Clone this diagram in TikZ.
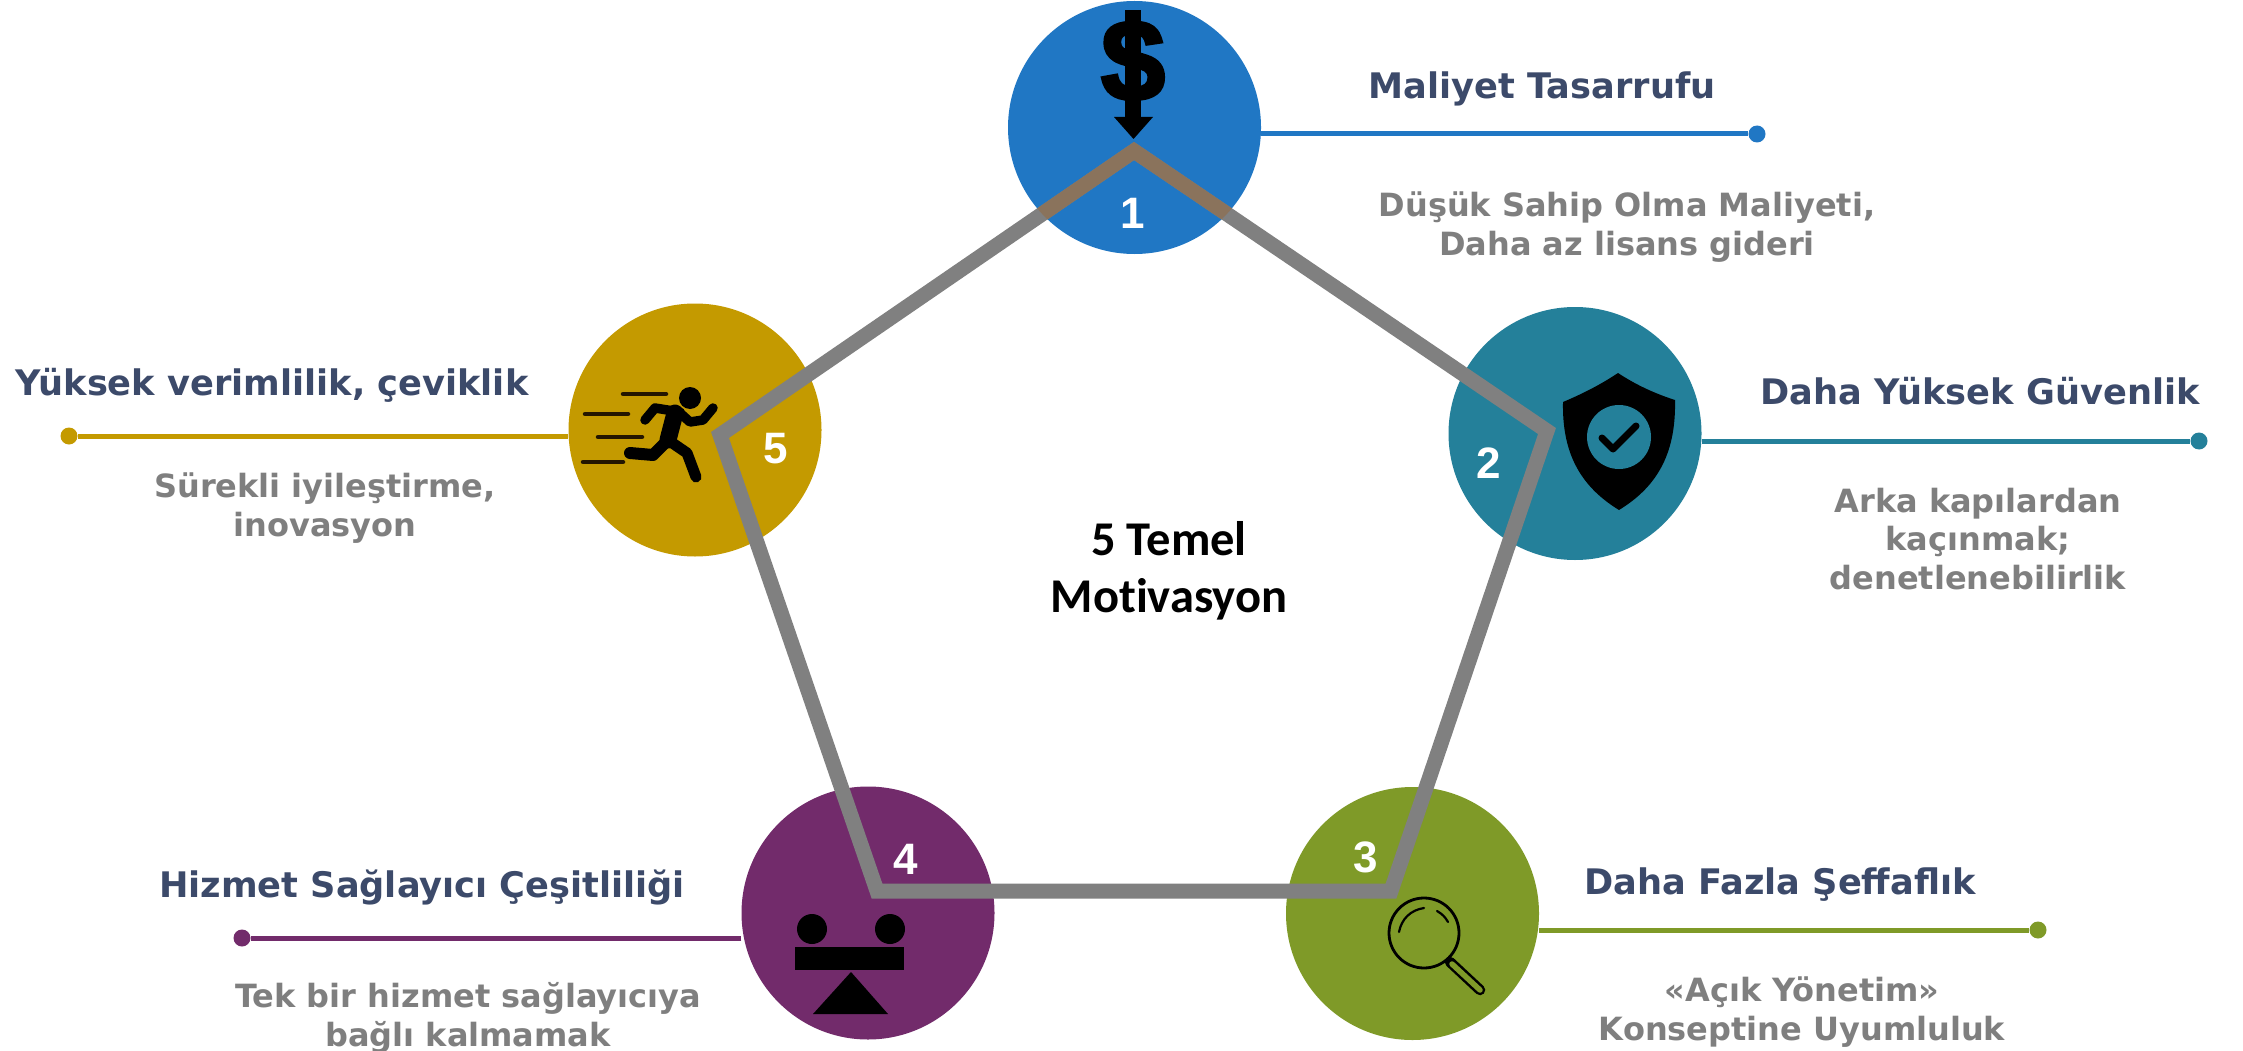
\documentclass[tikz,border=0pt]{standalone}
\usepackage{fontspec}
\setmainfont{DejaVu Sans}
\newfontfamily\numfont{Liberation Sans}
\newfontfamily\dollarfont[BoldFeatures={FakeBold=2.5}]{Liberation Sans}
\newfontfamily\midfont[Ligatures=CommonOff]{Carlito}
\definecolor{cblue}{HTML}{2077C4}
\definecolor{cteal}{HTML}{24809A}
\definecolor{cgold}{HTML}{C49A00}
\definecolor{cpurple}{HTML}{722B6B}
\definecolor{cgreen}{HTML}{7F9A28}
\definecolor{ctitle}{HTML}{3C4A6A}
\definecolor{csub}{HTML}{7F7F7F}
\definecolor{cline}{HTML}{808080}
\definecolor{cdark}{HTML}{241600}
\tikzset{
  disc/.style={circle,inner sep=0pt,minimum size=253pt,fill=#1},
  dotend/.style={circle,inner sep=0pt,minimum size=17pt,fill=#1},
  lead/.style={line width=5pt,draw=#1},
  titletext/.style={inner sep=0pt,text=ctitle,font=\fontsize{35.2}{40}\bfseries\selectfont},
  subtext/.style={inner sep=0pt,text=csub,font=\fontsize{32}{38.5}\bfseries\selectfont,align=center},
  midtext/.style={inner sep=0pt,text=black,font=\fontsize{48.5}{57}\midfont\bfseries\selectfont,align=center},
  numtext/.style={inner sep=0pt,text=white,font=\fontsize{44}{44}\numfont\bfseries\selectfont},
  pentaline/.style={line width=15pt,draw=cline,line join=miter,miter limit=10},
  limb/.style={line width=#1,draw=black,line cap=round,line join=round},
  speed/.style={line width=4.5pt,draw=cdark,line cap=round},
}
\begin{document}
\begin{tikzpicture}[x=1pt,y=-1pt]
\useasboundingbox (0,0) rectangle (2243,1051);
\fill[white] (0,0) rectangle (2243,1051);
% discs
\node[disc=cblue]   (c1) at (1134.5,127.5) {};
\node[disc=cteal]   (c2) at (1575,433.5) {};
\node[disc=cgreen]  (c3) at (1412.5,913.5) {};
\node[disc=cpurple] (c4) at (868,913) {};
\node[disc=cgold]   (c5) at (695,430) {};
% end dots
\node[dotend=cblue]   (d1) at (1757,134) {};
\node[dotend=cteal]   (d2) at (2199,441) {};
\node[dotend=cgreen]  (d3) at (2038,930) {};
\node[dotend=cpurple] (d4) at (242,938) {};
\node[dotend=cgold]   (d5) at (69,436) {};
\draw[lead=cblue]   (c1.east |- d1) -- (d1);
\draw[lead=cteal]   (c2.east |- d2) -- (d2);
\draw[lead=cgreen]  (c3.east |- d3) -- (d3);
\draw[lead=cpurple] (c4.west |- d4) -- (d4);
\draw[lead=cgold]   (c5.west |- d5) -- (d5);
% pentagon
\coordinate (p1) at (1134,151);
\coordinate (p2) at (1547,431);
\coordinate (p3) at (1391,891);
\coordinate (p4) at (877,891);
\coordinate (p5) at (720,435);
\draw[pentaline] (p1) -- (p2) -- (p3) -- (p4) -- (p5) -- cycle;
\begin{scope}
\clip (c1.center) circle (126.5);
\draw[pentaline,draw=cline!80!orange!90!black] (p1) -- (p2) -- (p3) -- (p4) -- (p5) -- cycle;
\end{scope}
% numbers
\node[numtext] (n1) at (1133,213) {1};
\node[numtext] (n2) at (1489,463) {2};
\node[numtext] (n3) at (1366,857) {3};
\node[numtext] (n4) at (906,859) {4};
\node[numtext] (n5) at (776,449) {5};
% dollar icon
\node[inner sep=0pt,text=black,font=\fontsize{116}{116}\dollarfont\bfseries\selectfont] (dollar) at (1133,62) {\$};
\fill[black] (1125,10) rectangle (1141,120);
\fill[black] (1114,117) -- (1153,117) -- (1133.5,139) -- cycle;
% shield icon
\fill[black] (1618,373) .. controls (1636,385) and (1656,394) .. (1675,400)
  .. controls (1676,450) and (1660,485) .. (1619,510)
  .. controls (1578,485) and (1562,450) .. (1563,402)
  .. controls (1582,394) and (1600,385) .. (1618,373) -- cycle;
\fill[cteal] (1619,437) circle (32);
\draw[limb=7pt] (1602,438) -- (1613,449) -- (1636,426);
% magnifier icon
\draw[black,line width=2.8pt] (1424,933) circle (35);
\draw[black,line width=10.5pt,line cap=round] (1450,962) -- (1480,990);
\draw[cgreen,line width=5.5pt,line cap=round] (1452,964) -- (1480,990);
\draw[black,line width=2.2pt,line cap=round] (1399,932) to[bend left=35] (1424,908);
\draw[black,line width=2.2pt,line cap=round] (1437,911) to[bend left=15] (1448,922);
% balance icon
\fill[black] (812,929) circle (15);
\fill[black] (890,929) circle (15);
\fill[black] (795,947) rectangle (904,970);
\fill[black] (851,972) -- (888,1014) -- (813,1014) -- cycle;
% runner icon
\fill[black] (690,398) circle (11);
\draw[speed] (623,394) -- (666,394);
\draw[speed] (585,414) -- (628,414);
\draw[speed] (598,437) -- (642,437);
\draw[speed] (583,462) -- (623,462);
\draw[limb=17pt] (675,413) -- (668,440);
\draw[limb=9.5pt] (680,412) -- (655,408) -- (645,420);
\draw[limb=9.5pt] (680,413) -- (690,422) -- (703,420) -- (713,408);
\draw[limb=12pt] (668,440) -- (653,455) -- (630,453);
\draw[limb=11pt] (668,440) -- (687,453) -- (696,477);
% texts
\node[titletext] (t1) at (1542,89) {Maliyet Tasarrufu};
\node[subtext]   (s1) at (1627,227) {Düşük Sahip Olma Maliyeti,\\ Daha az lisans gideri};
\node[titletext] (t2) at (1980,391) {Daha Yüksek Güvenlik};
\node[subtext]   (s2) at (1978,539) {Arka kapılardan\\kaçınmak;\\denetlenebilirlik};
\node[titletext] (t3) at (1780,885) {Daha Fazla Şeffaflık};
\node[subtext]   (s3) at (1802,1012) {«Açık Yönetim»\\Konseptine Uyumluluk};
\node[titletext] (t4) at (422,887) {Hizmet Sağlayıcı Çeşitliliği};
\node[subtext]   (s4) at (468,1018) {Tek bir hizmet sağlayıcıya\\bağlı kalmamak};
\node[titletext] (t5) at (272,385) {Yüksek verimlilik, çeviklik};
\node[subtext]   (s5) at (325,508) {Sürekli iyileştirme,\\inovasyon};
\node[midtext]   (m)  at (1169,571) {5 Temel\\Motivasyon};
\end{tikzpicture}
\end{document}
